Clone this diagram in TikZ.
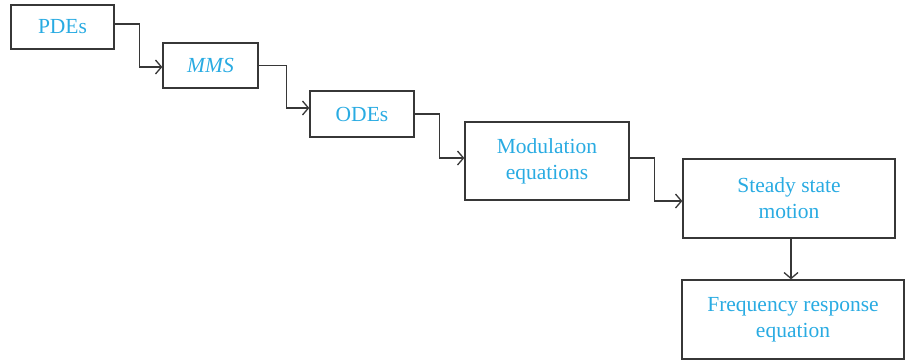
\documentclass[tikz,border=0pt]{standalone}
\usepackage{fontspec}
\setmainfont{Liberation Serif}
\usetikzlibrary{arrows.meta}
\definecolor{txtblue}{RGB}{41,171,226}
\definecolor{linegray}{RGB}{55,55,55}
\begin{document}
\begin{tikzpicture}[x=1pt,y=-1pt,
  box/.style={draw=linegray, line width=1.3pt, inner sep=0pt, align=center,
    text=txtblue, font=\fontsize{21.5}{26}\selectfont},
  conn/.style={draw=linegray, line width=1.3pt, -{Straight Barb[length=6pt,width=14pt]}}]
\useasboundingbox (0,0) rectangle (906,362);
\node[box, minimum width=103pt, minimum height=44pt] (pdes) at (62.5,27) {PDEs};
\node[box, minimum width=95pt, minimum height=45pt] (mms) at (210.5,65.5) {\itshape MMS};
\node[box, minimum width=104pt, minimum height=46pt] (odes) at (362,114) {ODEs};
\node[box, minimum width=164pt, minimum height=78pt] (mod) at (547,161) {Modulation\\equations};
\node[box, minimum width=212pt, minimum height=79pt] (steady) at (789,198.5) {Steady state\\motion};
\node[box, minimum width=222pt, minimum height=79pt] (freq) at (793,319.5) {Frequency response\\equation};
\draw[conn] ([yshift=3pt]pdes.east) -- ++(25,0) |- ([yshift=-1.5pt]mms.west);
\draw[conn] (mms.east) -- ++(28,0) |- ([yshift=6pt]odes.west);
\draw[conn] (odes.east) -- ++(25,0) |- ([yshift=3pt]mod.west);
\draw[conn] ([yshift=3pt]mod.east) -- ++(25,0) |- ([yshift=-2.5pt]steady.west);
\draw[conn] ([xshift=2pt]steady.south) -- ([xshift=2pt]steady.south |- freq.north);
\end{tikzpicture}
\end{document}
